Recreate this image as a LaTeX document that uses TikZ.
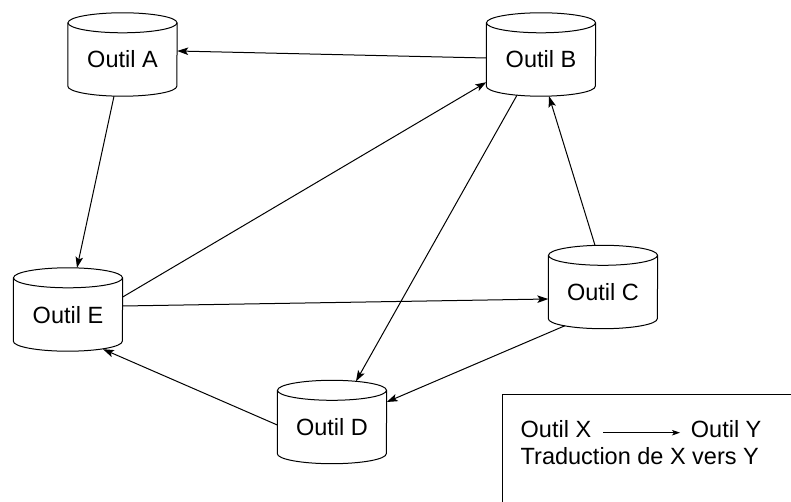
\documentclass[tikz,border=0pt]{standalone}
\usepackage{fontspec}
\setmainfont{Liberation Sans}
\usetikzlibrary{arrows.meta,calc}
\tikzset{
  tool/.style={minimum width=109pt, minimum height=83pt, inner sep=0pt,
    text height=27pt, text depth=0pt, font=\fontsize{23.5}{28}\selectfont},
  cylline/.style={line width=1pt, black},
  conn/.style={line width=1pt, -{Stealth[length=11pt,width=7.5pt,inset=2.5pt]}},
  legtext/.style={inner sep=0pt, anchor=base west, font=\fontsize{23.5}{28}\selectfont},
  legarrow/.style={line width=0.8pt, -{Stealth[length=8pt,width=5.5pt,inset=2pt]}}
}
\begin{document}
\begin{tikzpicture}[x=1pt,y=-1pt]
\useasboundingbox (0,0) rectangle (791,502);
% tools
\node[tool] (A) at (122.5,54.5) {Outil A};
\node[tool] (B) at (541,54.5) {Outil B};
\node[tool] (C) at (603,287) {Outil C};
\node[tool] (D) at (332,422) {Outil D};
\node[tool] (E) at (68,309.5) {Outil E};
\foreach \n in {A,B,C,D,E}{
  \draw[cylline] ($(\n.north)+(0,10)$) ellipse [x radius=54.5, y radius=10];
  \draw[cylline] ($(\n.north west)+(0,10)$) -- ($(\n.south west)+(0,-10)$)
     arc[start angle=180, end angle=0, x radius=54.5, y radius=10]
     -- ($(\n.north east)+(0,10)$);
}
% connectors
\draw[conn] ($(B.west)+(0,3.5)$) -- ($(A.east)+(0,-3.5)$);
\draw[conn] ($(A.south)+(-8.5,0)$) -- ($(E.north)+(9,0)$);
\draw[conn] ($(E.east)+(0,-12.5)$) -- ($(B.south west)+(0,-14)$);
\draw[conn] ($(E.east)+(0,-3.5)$) -- ($(C.west)+(0,12)$);
\draw[conn] ($(B.south)+(-24,-1)$) -- ($(D.north)+(24,1)$);
\draw[conn] ($(C.north)+(-8,0)$) -- ($(B.south)+(8,0)$);
\draw[conn] ($(C.south)+(-38,-3)$) -- ($(D.east)+(0,-20)$);
\draw[conn] ($(D.west)+(0,3)$) -- ($(E.south)+(35,-2)$);
% legend
\draw[line width=1pt] (502.5,520) -- (502.5,394) -- (810,394);
\node[legtext] (lx) at (520.5,437.5) {Outil X};
\node[legtext] (ly) at (690.7,437.5) {Outil Y};
\node[legtext] (lt) at (520.5,464) {Traduction de X vers Y};
\draw[legarrow] ($(lx.base east)+(11.7,-4.8)$) -- ($(ly.base west)+(-10.7,-4.8)$);
\end{tikzpicture}
\end{document}
